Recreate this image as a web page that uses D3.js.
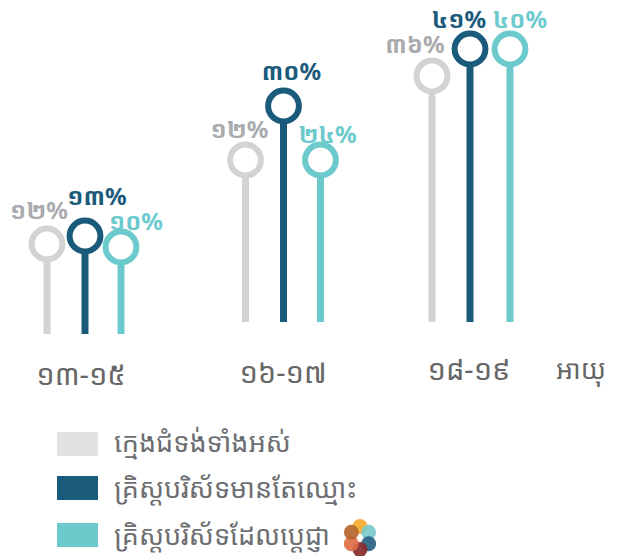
<!DOCTYPE html>
<html>
<head>
<meta charset="utf-8">
<script src="https://cdn.jsdelivr.net/npm/d3@7/dist/d3.min.js"></script>
<style>
html,body{margin:0;padding:0;background:#fff}
svg{display:block}
text{font-family:"Noto Sans","Noto Sans Khmer","Khmer OS","DejaVu Sans",sans-serif}
</style>
</head>
<body>
<svg id="chart" width="624" height="556"></svg>
<script>
const ageGroups = ["១៣-១៥", "១៦-១៧", "១៨-១៩"];
const seriesNames = ["ក្មេងជំទង់ទាំងអស់", "គ្រិស្តបរិស័ទមានតែឈ្មោះ", "គ្រិស្តបរិស័ទដែលប្តេជ្ញា"];
const seriesColors = ["#d1d3d4", "#1a5a7a", "#6ccacd"];
const legendColors = ["#e1e2e4", "#1a5a7a", "#6ccacd"];
const labelColors = ["#a9abae", "#1a5a7a", "#6ccacd"];
const axisUnit = "អាយុ";
const allTeens = ["១២%", "១២%", "៣៦%"];
const nominal = ["១៣%", "៣០%", "៤១%"];
const committed = ["១០%", "២៤%", "៤០%"];
// stem heights as drawn in the picture (the artwork is not to a common scale)
const allTeensHeight = [90, 162, 246];
const nominalHeight = [98, 216, 273];
const committedHeight = [87, 162, 273];
const logoColors = ["#f5ae2f", "#79c9cc", "#2a6283", "#872a2b", "#e06c45", "#b4672f"];

const svg = d3.select("#chart");
const labels = [allTeens, nominal, committed];
const heights = [allTeensHeight, nominalHeight, committedHeight];

const centers = d3.scaleOrdinal().domain(ageGroups).range([85, 283.5, 470]);
const baseY = d3.scaleOrdinal().domain(ageGroups).range([334, 322, 322]);
const spread = d3.scaleOrdinal().domain(ageGroups).range([[-38,0,36],[-38,0,37],[-38,0,40]]);
const h = d3.scaleLinear().domain([0, 300]).range([0, 300]);
const r = 15.4;
// label placement around each marker, by group then series: [dx, dy]
const labelOffset = [
  [[-8, -25], [12, -31], [15, -17]],
  [[-6, -22], [8, -26], [7, -17]],
  [[-17, -23], [-11, -21], [10, -21]]
];
const groupLabelX = [81, 283, 469];
const groupLabelY = [385, 383, 380];

ageGroups.forEach((g, gi) => {
  seriesNames.forEach((s, si) => {
    const x = centers(g) + spread(g)[si];
    const y0 = baseY(g);
    const cy = y0 - h(heights[si][gi]);
    svg.append("line").attr("x1", x).attr("x2", x).attr("y1", y0).attr("y2", cy)
      .attr("stroke", seriesColors[si]).attr("stroke-width", 7);
    svg.append("circle").attr("cx", x).attr("cy", cy).attr("r", r)
      .attr("fill", "#fff").attr("stroke", seriesColors[si]).attr("stroke-width", 6);
    const [dx, dy] = labelOffset[gi][si];
    svg.append("text").attr("x", x + dx).attr("y", cy + dy)
      .attr("text-anchor", "middle").attr("font-size", 24).attr("font-weight", 700)
      .attr("fill", labelColors[si]).text(labels[si][gi]);
  });
  svg.append("text").attr("x", groupLabelX[gi]).attr("y", groupLabelY[gi])
    .attr("text-anchor", "middle").attr("font-size", 29).attr("fill", "#666").text(g);
});
svg.append("text").attr("x", 581).attr("y", 379).attr("text-anchor", "middle")
  .attr("font-size", 26.5).attr("fill", "#666").text(axisUnit);

const legendY = d3.scaleOrdinal().domain(seriesNames).range([444, 488, 535]);
const legendBase = [452, 498, 545];
seriesNames.forEach((s, i) => {
  svg.append("rect").attr("x", 57).attr("y", legendY(s) - 12).attr("width", 41).attr("height", 24).attr("fill", legendColors[i]);
  svg.append("text").attr("x", 114).attr("y", legendBase[i]).attr("font-size", 27).attr("fill", "#6d6e71").text(s);
});
const logoAngle = d3.scaleLinear().domain([0, 6]).range([-Math.PI / 2, 1.5 * Math.PI]);
logoColors.forEach((c, i) => {
  svg.append("circle").attr("cx", 360 + 10 * Math.cos(logoAngle(i))).attr("cy", 538 + 11.5 * Math.sin(logoAngle(i)))
    .attr("r", 7.5).attr("fill", c).attr("opacity", 0.92);
});
</script>
</body>
</html>
